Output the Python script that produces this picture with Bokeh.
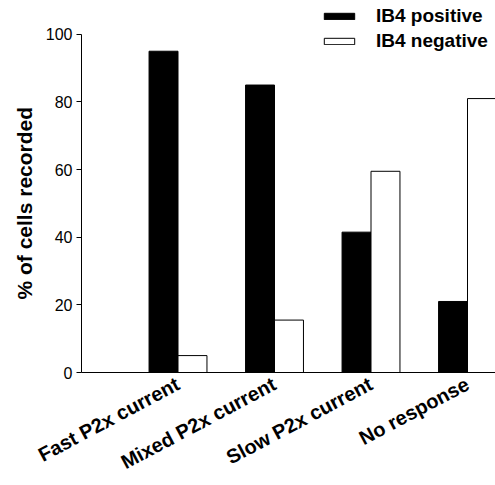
import math
from bokeh.plotting import figure
from bokeh.models import ColumnDataSource, Range1d, FixedTicker, Legend, LegendItem, Title
from bokeh.embed import file_html
from bokeh.resources import INLINE

categories = ["Fast P2x current", "Mixed P2x current", "Slow P2x current", "No response"]
ib4_positive = [95, 85, 41.5, 21]
ib4_negative = [5, 15.5, 59.5, 81]
y_ticks = [0, 20, 40, 60, 80, 100]

xpos = [i + 1 for i in range(len(categories))]
bw = 0.3
src = ColumnDataSource(data=dict(
    xp=[x - bw / 2 for x in xpos],
    xn=[x + bw / 2 for x in xpos],
    pos=ib4_positive,
    neg=ib4_negative,
))

FONT = "Liberation Sans"

p = figure(width=495, height=485, output_backend="svg", toolbar_location=None,
           x_range=Range1d(0, 4.29), y_range=Range1d(0, 110.0),
           min_border_left=81, min_border_right=0, min_border_top=0, min_border_bottom=112)
p.outline_line_color = None
p.grid.grid_line_color = None
p.background_fill_color = "white"

r1 = p.vbar(x="xp", top="pos", width=bw, source=src, fill_color="black", line_color="black", line_width=1)
r2 = p.vbar(x="xn", top="neg", width=bw, source=src, fill_color="white", line_color="black", line_width=1)

# y axis
ya = p.yaxis[0]
ya.bounds = (0, 100)
ya.ticker = FixedTicker(ticks=y_ticks)
ya.minor_tick_line_color = None
ya.major_tick_in = 0
ya.major_tick_out = 5
ya.axis_line_color = "black"
ya.major_tick_line_color = "black"
ya.major_label_text_font = FONT
ya.major_label_text_font_size = "16px"
ya.major_label_text_color = "black"
ya.major_label_standoff = 4

# y axis title, positioned along the bounded part of the axis
ytitle = Title(text="% of cells recorded", align="left", vertical_align="bottom",
               offset=73, standoff=14, text_font=FONT, text_font_style="bold",
               text_font_size="21px", text_color="black")
p.add_layout(ytitle, "left")

# x axis
xa = p.xaxis[0]
xa.ticker = FixedTicker(ticks=xpos)
xa.major_label_overrides = {x: c for x, c in zip(xpos, categories)}
xa.major_tick_line_color = None
xa.minor_tick_line_color = None
xa.axis_line_color = "black"
xa.major_label_orientation = math.radians(28)
xa.major_label_text_font = FONT
xa.major_label_text_font_style = "bold"
xa.major_label_text_font_size = "20px"
xa.major_label_text_color = "black"
xa.major_label_standoff = 4

legend = Legend(items=[LegendItem(label="IB4 positive", renderers=[r1]),
                       LegendItem(label="IB4 negative", renderers=[r2])],
                location=(239, 320))
legend.glyph_width = 38
legend.glyph_height = 8
legend.label_height = 20
legend.spacing = 3
legend.padding = 0
legend.margin = 0
legend.label_standoff = 18
legend.border_line_color = None
legend.background_fill_alpha = 0
legend.label_text_font = FONT
legend.label_text_font_style = "bold"
legend.label_text_font_size = "19px"
legend.label_text_color = "black"
p.add_layout(legend)

open("out.html", "w").write(file_html(p, INLINE))
